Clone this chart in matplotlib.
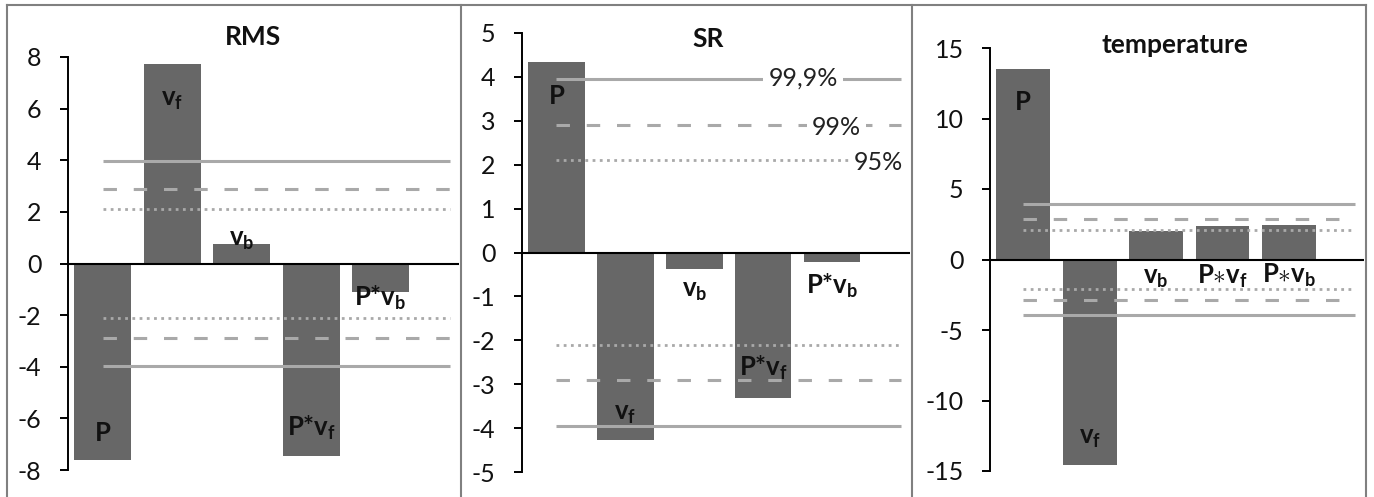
import matplotlib
matplotlib.use("Agg")
import matplotlib.pyplot as plt
from matplotlib.lines import Line2D

plt.rcParams['font.family'] = ['Lato', 'DejaVu Sans']
plt.rcParams['mathtext.fontset'] = 'custom'
plt.rcParams['mathtext.rm'] = 'Lato'
plt.rcParams['mathtext.bf'] = 'Lato:bold'
plt.rcParams['mathtext.it'] = 'Lato:italic'
plt.rcParams['axes.unicode_minus'] = False

# data
categories = ['P', 'v_f', 'v_b', 'P*v_f', 'P*v_b']
rms_values = [-7.63, 7.74, 0.76, -7.44, -1.10]
sr_values = [4.33, -4.27, -0.37, -3.31, -0.22]
temp_values = [13.5, -14.6, 2.05, 2.35, 2.48]
crit_levels = [2.1, 2.9, 3.96]          # 95%, 99%, 99.9%
crit_names = ['95%', '99%', '99,9%']

# label text / baselines (data units)
labels_plain = ['P', r'$\mathbf{v_f}$', r'$\mathbf{v_b}$', r'P*$\mathbf{v_f}$', r'P*$\mathbf{v_b}$']
labels_temp = ['P', r'$\mathbf{v_f}$', r'$\mathbf{v_b}$', r'P$\mathbf{\ast v_f}$', r'P$\mathbf{\ast v_b}$']
rms_label_y = [-6.86, 6.12, 0.70, -6.67, -1.63]
sr_label_y = [3.39, -3.80, -1.02, -2.82, -0.93]
temp_label_y = [10.57, -13.1, -1.70, -1.70, -1.63]

W, H = 1374, 497
fig = plt.figure(figsize=(W / 100, H / 100), dpi=100)

bar_col = '#676767'
line_col = '#a9a9a9'


def px_axes(left, right, top, bottom):
    return fig.add_axes([left / W, 1 - bottom / H, (right - left) / W, (bottom - top) / H])


panels = [
    dict(box=(68, 459, 57, 470), vals=rms_values, lab=labels_plain, laby=rms_label_y,
         ylim=(-8, 8), ticks=range(-8, 9, 2), title='RMS', tpos=(253, 45), width=0.82),
    dict(box=(522, 910, 33, 472), vals=sr_values, lab=labels_plain, laby=sr_label_y,
         ylim=(-5, 5), ticks=range(-5, 6, 1), title='SR', tpos=(708, 47), width=0.82),
    dict(box=(990, 1364, 48, 471), vals=temp_values, lab=labels_temp, laby=temp_label_y,
         ylim=(-15, 15), ticks=range(-15, 16, 5), title='temperature', tpos=(1175, 53), width=0.81),
]

styles = [dict(ls=(0, (1, 1.6)), lw=2.0),
          dict(ls=(0, (4.4, 5.5)), lw=2.2),
          dict(ls='-', lw=2.2)]

for k, p in enumerate(panels):
    ax = px_axes(*p['box'])
    x = list(range(len(categories)))
    ax.bar(x, p['vals'], width=p['width'], color=bar_col, zorder=2)
    xs = [0, 5]
    for lvl, st in zip(crit_levels, styles):
        for sgn in (1, -1):
            ax.plot(xs, [sgn * lvl] * 2, color=line_col, solid_capstyle='butt',
                    dash_capstyle='butt', zorder=3, **st)
    ax.axhline(0, color='black', lw=1.5, zorder=4)
    for xi, t, ly in zip(x, p['lab'], p['laby']):
        ax.text(xi, ly, t, ha='center', va='baseline', fontsize=18.5,
                fontweight='bold', color='#111111', zorder=5)
    ax.set_xlim(-0.5, 5.13)
    ax.set_ylim(*p['ylim'])
    ax.set_yticks(list(p['ticks']))
    ax.set_xticks([])
    for s in ('top', 'right', 'bottom'):
        ax.spines[s].set_visible(False)
    ax.spines['left'].set_linewidth(1.4)
    ax.tick_params(axis='y', direction='out', length=6, width=1.4, pad=13,
                   labelsize=18, labelcolor='#111111')
    ax.set_facecolor('none')
    fig.text(p['tpos'][0] / W, 1 - p['tpos'][1] / H, p['title'], ha='center',
             va='baseline', fontsize=19, fontweight='bold', color='#111111')
    if p['title'] == 'SR':
        pct_pos = [(4.67, 2.05), (4.06, 2.85), (3.58, 3.98)]
        for name, (px_, py_) in zip(crit_names, pct_pos):
            ax.text(px_, py_, name, ha='center', va='center', fontsize=18,
                    color='#222222', zorder=6,
                    bbox=dict(boxstyle='square,pad=0.2', fc='white', ec='none'))

# panel frames
frame = dict(color='#808080', lw=1.5, transform=fig.transFigure)
for xf in (7, 461, 912, 1366):
    fig.add_artist(Line2D([xf / W, xf / W], [1 - 5 / H, 1 - 496 / H], **frame))
fig.add_artist(Line2D([7 / W, 1366 / W], [1 - 5 / H, 1 - 5 / H], **frame))

plt.savefig('out.png', dpi=100)
